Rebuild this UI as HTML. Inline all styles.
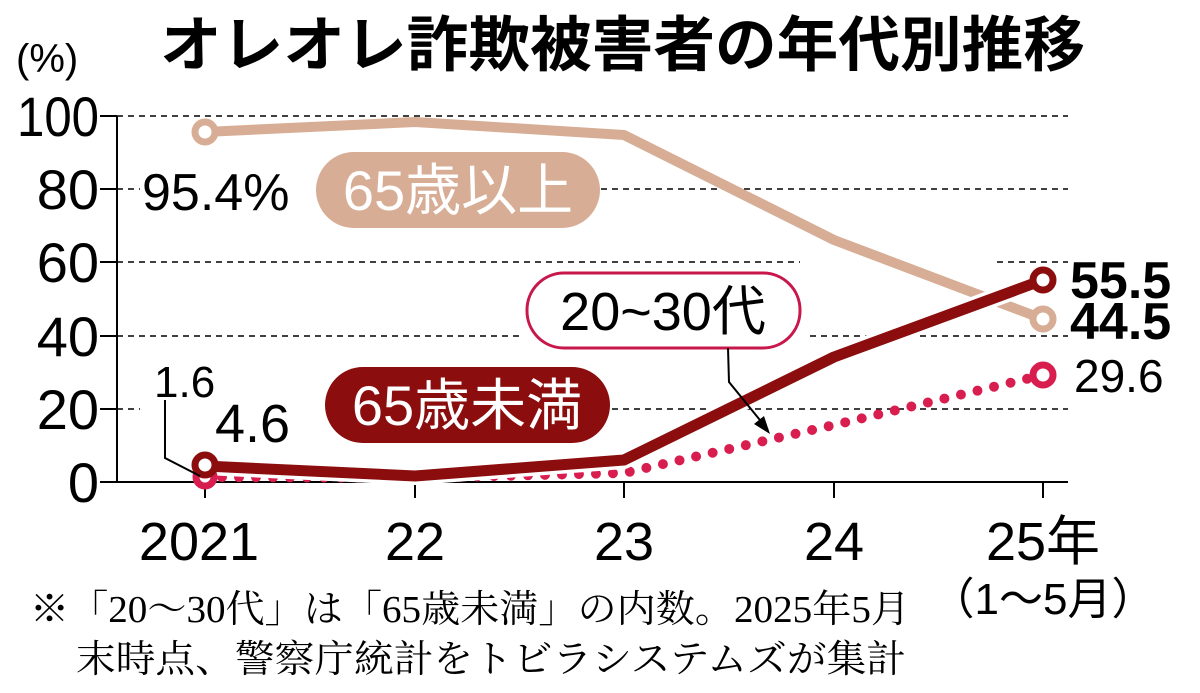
<!DOCTYPE html>
<html><head><meta charset="utf-8"><style>
html,body{margin:0;padding:0;background:#fff;}
svg{display:block;}
.s{font-family:"Liberation Sans","Noto Sans CJK JP",sans-serif;}
.b{font-family:"Liberation Sans","Noto Sans CJK JP",sans-serif;font-weight:bold;}
.m{font-family:"Liberation Serif","Noto Serif CJK SC",serif;}
</style></head><body>
<svg width="1200" height="693" viewBox="0 0 1200 693" xmlns="http://www.w3.org/2000/svg">
<text x="160" y="66" textLength="925" lengthAdjust="spacingAndGlyphs" class="b" font-size="60" fill="#000">オレオレ詐欺被害者の年代別推移</text>
<text x="16" y="72" class="s" font-size="40" fill="#000">(%)</text>
<g stroke="#000" stroke-width="1.6" stroke-dasharray="6,5">
<line x1="117" y1="116" x2="1068" y2="116"/>
<line x1="117" y1="189" x2="1068" y2="189"/>
<line x1="117" y1="262" x2="1068" y2="262"/>
<line x1="117" y1="336" x2="1068" y2="336"/>
<line x1="117" y1="409" x2="1068" y2="409"/>
</g>
<g stroke="#000" stroke-width="2">
<line x1="117" y1="116" x2="117" y2="482"/>
<line x1="100" y1="482" x2="1068" y2="482"/>
<line x1="100" y1="116" x2="117" y2="116"/><line x1="100" y1="189" x2="117" y2="189"/>
<line x1="100" y1="262" x2="117" y2="262"/><line x1="100" y1="336" x2="117" y2="336"/>
<line x1="100" y1="409" x2="117" y2="409"/>
<line x1="205" y1="482" x2="205" y2="498"/><line x1="415" y1="482" x2="415" y2="498"/>
<line x1="624" y1="482" x2="624" y2="498"/><line x1="834" y1="482" x2="834" y2="498"/>
<line x1="1043" y1="482" x2="1043" y2="498"/>
</g>
<g class="s" font-size="56" text-anchor="end" fill="#000">
<text x="99" y="136" textLength="82" lengthAdjust="spacingAndGlyphs">100</text><text x="99" y="209">80</text><text x="99" y="282">60</text>
<text x="99" y="356">40</text><text x="99" y="429">20</text><text x="99" y="502">0</text>
</g>
<g class="s" font-size="54" text-anchor="middle" fill="#000">
<text x="199" y="560">2021</text><text x="415" y="560">22</text><text x="624" y="560">23</text>
<text x="834" y="560">24</text><text x="1043" y="560">25年</text>
<text x="1043" y="614" font-size="44">（1～5月）</text>
</g>
<rect x="140" y="150" width="460" height="80" fill="#fff"/>
<rect x="140" y="365" width="470" height="80" fill="#fff"/>
<rect x="520" y="270" width="285" height="82" fill="#fff"/>
<rect x="800" y="250" width="195" height="20" fill="#fff"/>
<polyline points="205,132 415,122 624,135 834,240 1043,319" fill="none" stroke="#d7ad95" stroke-width="10" stroke-linejoin="round"/>
<polyline points="205,477 415,478 624,473 834,425 1043,375" fill="none" stroke="#d81e4f" stroke-width="10" stroke-linecap="round" stroke-dasharray="0,17"/>
<polyline points="205,466 415,476 624,460 834,357 1043,280" fill="none" stroke="#fff" stroke-width="18" stroke-linejoin="round"/>
<polyline points="205,466 415,476 624,460 834,357 1043,280" fill="none" stroke="#8b0d0d" stroke-width="11" stroke-linejoin="round"/>
<circle cx="205" cy="132" r="10" fill="#fff" stroke="#d7ad95" stroke-width="7"/>
<circle cx="1043" cy="319" r="10" fill="#fff" stroke="#d7ad95" stroke-width="7"/>
<circle cx="205" cy="477" r="9" fill="#fff" stroke="#d81e4f" stroke-width="7"/>
<circle cx="1043" cy="375" r="10" fill="#fff" stroke="#d81e4f" stroke-width="7"/>
<circle cx="205" cy="465" r="10" fill="#fff" stroke="#8b0d0d" stroke-width="7"/>
<circle cx="1043" cy="280" r="10" fill="#fff" stroke="#8b0d0d" stroke-width="7"/>
<rect x="316" y="152" width="284" height="76" rx="38" fill="#d7ad95"/>
<text x="458" y="210" text-anchor="middle" class="s" font-size="56" fill="#fff">65歳以上</text>
<rect x="325" y="367" width="285" height="76" rx="38" fill="#8b0d0d"/>
<text x="467" y="425" text-anchor="middle" class="s" font-size="56" fill="#fff">65歳未満</text>
<rect x="527" y="273" width="273" height="75" rx="37" fill="#fff" stroke="#c8174a" stroke-width="3"/>
<text x="663" y="330" text-anchor="middle" class="s" font-size="54" fill="#000">20~30代</text>
<polyline points="728,348 729,382 768,430" fill="none" stroke="#000" stroke-width="2"/>
<polygon points="770,434 754,424 764,416" fill="#000"/>
<polyline points="165,400 165,458 200,476" fill="none" stroke="#000" stroke-width="2"/>
<text x="142" y="210" class="s" font-size="52" fill="#000">95.4%</text>
<text x="154" y="397" class="s" font-size="44" fill="#000">1.6</text>
<text x="215" y="442" class="s" font-size="54" fill="#000">4.6</text>
<text x="1070" y="298" class="b" font-size="52" fill="#000">55.5</text>
<text x="1070" y="339" class="b" font-size="52" fill="#000">44.5</text>
<text x="1074" y="392" class="s" font-size="46" fill="#000">29.6</text>
<text x="30" y="622" textLength="880" lengthAdjust="spacingAndGlyphs" class="m" font-size="38" fill="#000">※「20～30代」は「65歳未満」の内数。2025年5月</text>
<text x="76" y="672" textLength="830" lengthAdjust="spacingAndGlyphs" class="m" font-size="38" fill="#000">末時点、警察庁統計をトビラシステムズが集計</text>
</svg>
</body></html>
